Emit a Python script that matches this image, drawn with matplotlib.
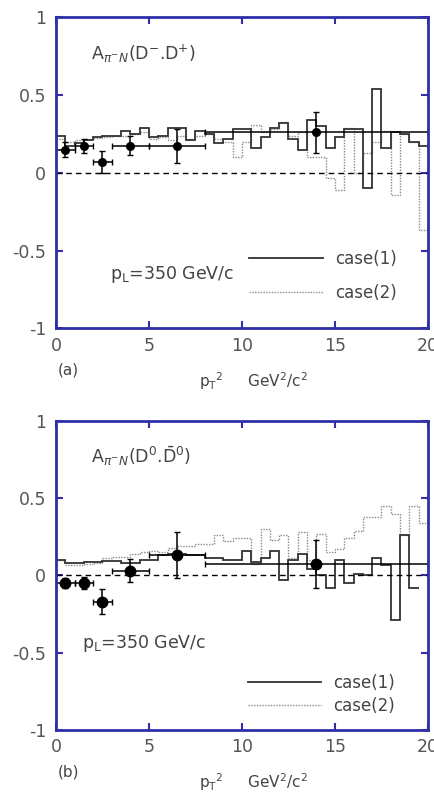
import numpy as np
import matplotlib
matplotlib.use("Agg")
from matplotlib import pyplot as plt

# pT^2 bins of 0.5 GeV^2/c^2 from 0 to 20
edges = np.linspace(0, 20, 41)

# panel (a): A(D-, D+)
a_case1 = [0.24, 0.17, 0.19, 0.21, 0.23, 0.24, 0.24, 0.27, 0.25, 0.29,
           0.23, 0.24, 0.29, 0.29, 0.21, 0.27, 0.25, 0.19, 0.22, 0.28,
           0.28, 0.16, 0.23, 0.29, 0.32, 0.22, 0.15, 0.34, 0.30, 0.16,
           0.23, 0.28, 0.28, -0.10, 0.54, 0.16, 0.26, 0.25, 0.20, 0.17]
a_case2 = [0.22, 0.20, 0.21, 0.22, 0.225, 0.23, 0.235, 0.24, 0.25, 0.26,
           0.22, 0.23, 0.21, 0.24, 0.22, 0.24, 0.25, 0.22, 0.20, 0.10,
           0.20, 0.31, 0.26, 0.28, 0.33, 0.24, 0.26, 0.10, 0.10, -0.03,
           -0.11, 0.29, 0.00, 0.13, 0.20, 0.27, -0.14, 0.25, 0.20, -0.37]
a_x = [0.5, 1.5, 2.5, 4.0, 6.5, 14.0]
a_xerr = [0.5, 0.5, 0.5, 1.0, 1.5, 6.0]
a_y = [0.15, 0.175, 0.07, 0.175, 0.175, 0.26]
a_yerr = [0.05, 0.045, 0.07, 0.06, 0.11, 0.13]

# panel (b): A(D0, D0bar)
b_case1 = [0.097, 0.08, 0.08, 0.086, 0.086, 0.09, 0.09, 0.08, 0.08, 0.10,
           0.10, 0.13, 0.14, 0.14, 0.13, 0.13, 0.11, 0.11, 0.10, 0.10,
           0.16, 0.085, 0.11, 0.16, -0.03, 0.10, 0.14, 0.04, 0.00, -0.08,
           0.10, -0.05, 0.01, 0.00, 0.11, 0.07, -0.29, 0.26, -0.08]
b_case2 = [0.10, 0.07, 0.07, 0.075, 0.08, 0.11, 0.12, 0.12, 0.14, 0.15,
           0.16, 0.15, 0.18, 0.19, 0.19, 0.20, 0.20, 0.26, 0.22, 0.24,
           0.24, 0.075, 0.30, 0.23, 0.26, 0.11, 0.28, 0.10, 0.27, 0.15,
           0.17, 0.24, 0.29, 0.38, 0.38, 0.45, 0.40, 0.26, 0.45, 0.34]
b_x = [0.5, 1.5, 2.5, 4.0, 6.5, 14.0]
b_xerr = [0.5, 0.5, 0.5, 1.0, 1.5, 6.0]
b_y = [-0.05, -0.05, -0.17, 0.03, 0.13, 0.075]
b_yerr = [0.03, 0.04, 0.08, 0.075, 0.15, 0.155]

xticks = [0, 5, 10, 15, 20]
yticks = [-1, -0.5, 0, 0.5, 1]
ytick_labels = ["-1", "-0.5", "0", "0.5", "1"]

blue = "#2f2fa8"
txt = "#444444"

fig = plt.figure(figsize=(4.34, 7.93), dpi=100, facecolor="white")
ax_a = fig.add_axes([0.129, 0.586, 0.857, 0.392])
ax_b = fig.add_axes([0.129, 0.0794, 0.857, 0.390])

panels = [
    (ax_a, a_case1, a_case2, a_x, a_xerr, a_y, a_yerr, "(a)",
     r"A$_{\pi^{-}N}$(D$^{-}$.D$^{+}$)", (2.9, -0.68), (0.52, 0.085), 0.95, 5.5),
    (ax_b, b_case1, b_case2, b_x, b_xerr, b_y, b_yerr, "(b)",
     r"A$_{\pi^{-}N}$(D$^{0}$.$\bar{\rm D}^{0}$)", (1.4, -0.47), (0.515, 0.05), 0.3, 7.5),
]

for (ax, c1, c2, px, pxe, py, pye, tag, title, ptxt, legpos, lsp, ms) in panels:
    ax.axhline(0, color="black", lw=1.0, ls=(0, (4, 3)))
    h2 = ax.stairs(c2, edges[:len(c2) + 1], color="#8a8a8a", lw=1.0,
                   ls=(0, (1, 1)), baseline=None, label="case(2)")
    h1 = ax.stairs(c1, edges[:len(c1) + 1], color="#333333", lw=1.3,
                   baseline=None, label="case(1)")
    ax.errorbar(px, py, xerr=pxe, yerr=pye, fmt="o", color="black",
                ms=ms, lw=1.1, capsize=2.5, capthick=1.0)

    ax.set_xlim(0, 20)
    ax.set_ylim(-1, 1)
    ax.set_xticks(xticks)
    ax.set_yticks(yticks)
    ax.set_yticklabels(ytick_labels)
    ax.tick_params(direction="in", length=5, width=1.5, color=blue,
                   top=True, right=True, labelsize=12.5, labelcolor="#555555")
    ax.tick_params(axis="x", pad=6)
    ax.tick_params(axis="y", pad=7)
    for sp in ax.spines.values():
        sp.set_color(blue)
        sp.set_linewidth(2)

    ax.text(1.9, 0.73, title, fontsize=12.5, color=txt)
    ax.text(ptxt[0], ptxt[1], r"p$_{\rm L}$=350 GeV/c", fontsize=12.5,
            color=txt)
    ax.text(0.005, -0.135, tag, transform=ax.transAxes, fontsize=11,
            color=txt, va="center")
    ax.set_xlabel(r"p$_{\rm T}$$^{2}$     GeV$^{2}$/c$^{2}$", fontsize=11,
                  color=txt)
    ax.xaxis.set_label_coords(0.53, -0.135)
    ax.legend([h1, h2], ["case(1)", "case(2)"], loc="lower left",
              bbox_to_anchor=legpos, frameon=False, fontsize=12,
              handlelength=4.4, handletextpad=0.75, labelspacing=lsp,
              borderpad=0, borderaxespad=0, labelcolor=txt)

fig.savefig("out.png", dpi=100)
